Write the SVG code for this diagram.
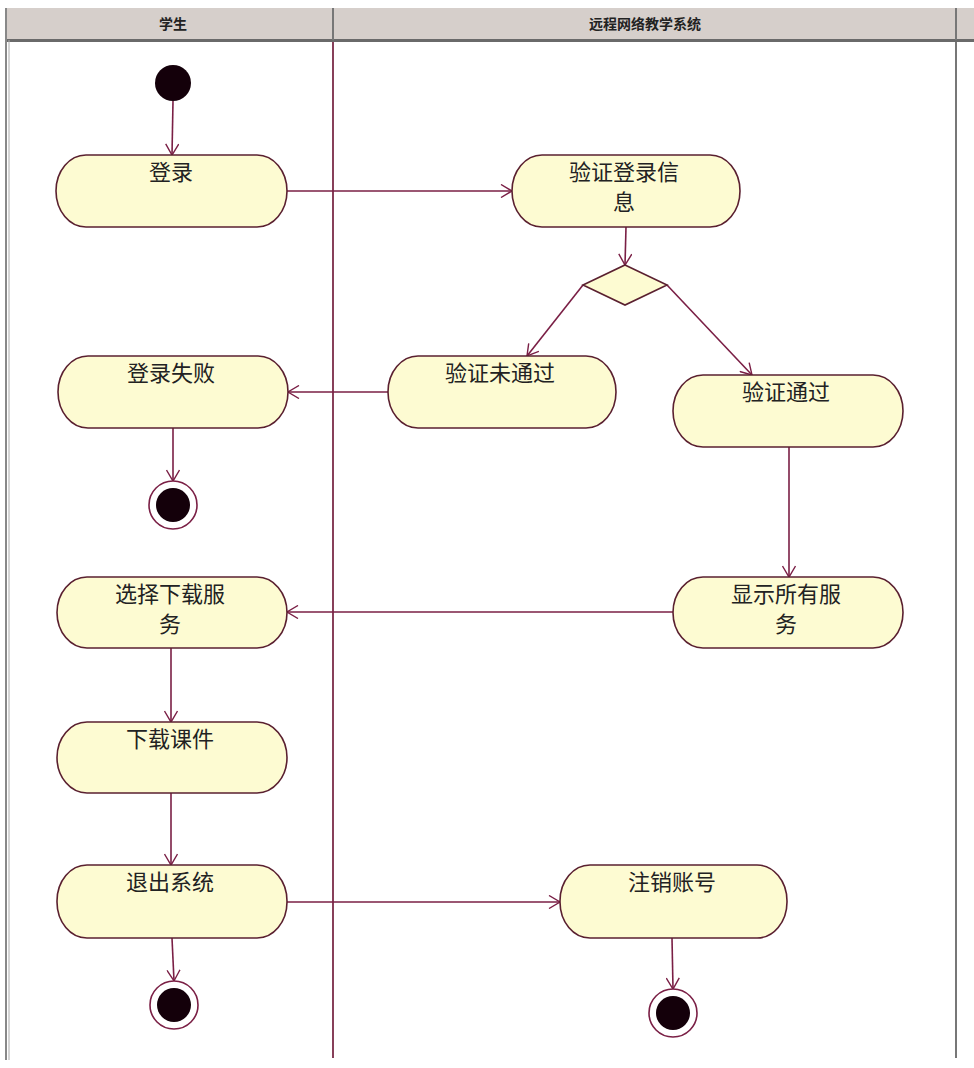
<svg xmlns="http://www.w3.org/2000/svg" width="974" height="1068" viewBox="0 0 974 1068">
<defs>
<style>
.act{fill:#fdfbd2;stroke:#5a2030;stroke-width:1.6}
.lbl{font-family:"Noto Sans CJK SC","Noto Sans",sans-serif;font-size:22px;fill:#222;text-anchor:middle}
.hdr{font-family:"Noto Sans CJK SC","Noto Sans",sans-serif;font-size:14px;font-weight:bold;fill:#222;text-anchor:middle}
.con{stroke:#7a1f45;stroke-width:1.6;fill:none;marker-end:url(#arr)}
.fin{fill:#fff;stroke:#7a1f45;stroke-width:1.6}
.dot{fill:#14000a}
</style>
<marker id="arr" markerWidth="14" markerHeight="14" refX="12" refY="7" orient="auto" markerUnits="userSpaceOnUse">
<path d="M1,0.5 L12,7 L1,13.5" fill="none" stroke="#7a1f45" stroke-width="1.4"/>
</marker>
</defs>
<rect width="974" height="1068" fill="#fff"/>
<g id="swimlanes">
<rect x="5" y="8" width="969" height="32" fill="#d6cfcb"/>
<rect x="5" y="39" width="969" height="3" fill="#6a6a6a"/>
<line x1="333" y1="8" x2="333" y2="40" stroke="#777" stroke-width="2"/>
<line x1="956" y1="8" x2="956" y2="40" stroke="#777" stroke-width="2"/>
<line x1="6" y1="8" x2="6" y2="1060" stroke="#888" stroke-width="2"/>
<line x1="9" y1="40" x2="9" y2="1060" stroke="#aaa" stroke-width="1"/>
<line x1="333" y1="42" x2="333" y2="1058" stroke="#6a1030" stroke-width="1.6"/>
<line x1="956" y1="42" x2="956" y2="1058" stroke="#555" stroke-width="1.6"/>
<text class="hdr" x="173" y="29">学生</text>
<text class="hdr" x="645" y="29">远程网络教学系统</text>
</g>
<g id="connectors">
<line class="con" x1="173" y1="101" x2="172" y2="155"/>
<line class="con" x1="287" y1="191" x2="512" y2="191"/>
<line class="con" x1="626" y1="227" x2="625" y2="265"/>
<line class="con" x1="583" y1="285" x2="527" y2="356"/>
<line class="con" x1="667" y1="285" x2="752" y2="375"/>
<line class="con" x1="388" y1="392" x2="288" y2="392"/>
<line class="con" x1="173" y1="428" x2="173" y2="481"/>
<line class="con" x1="789" y1="447" x2="789" y2="577"/>
<line class="con" x1="673" y1="612" x2="287" y2="612"/>
<line class="con" x1="171" y1="648" x2="171" y2="722"/>
<line class="con" x1="171" y1="793" x2="171" y2="865"/>
<line class="con" x1="172" y1="938" x2="174" y2="981"/>
<line class="con" x1="287" y1="902" x2="560" y2="902"/>
<line class="con" x1="672" y1="938" x2="673" y2="989"/>
</g>
<g id="start"><circle class="dot" cx="173" cy="83" r="18"/></g>
<g id="login"><rect class="act" x="56" y="155" width="231" height="72" rx="30" ry="36"/><text class="lbl" x="171" y="180">登录</text></g>
<g id="verify"><rect class="act" x="512" y="155" width="228" height="72" rx="30" ry="36"/><text class="lbl" x="624" y="180">验证登录信</text><text class="lbl" x="624" y="210">息</text></g>
<g id="decision"><polygon class="act" points="625,265 667,285 625,305 583,285"/></g>
<g id="fail"><rect class="act" x="388" y="356" width="228" height="72" rx="30" ry="36"/><text class="lbl" x="500" y="381">验证未通过</text></g>
<g id="pass"><rect class="act" x="673" y="375" width="230" height="72" rx="30" ry="36"/><text class="lbl" x="786" y="400">验证通过</text></g>
<g id="loginfail"><rect class="act" x="58" y="356" width="230" height="72" rx="30" ry="36"/><text class="lbl" x="171" y="381">登录失败</text></g>
<g id="end1"><circle class="fin" cx="173" cy="505" r="24"/><circle class="dot" cx="173" cy="505" r="17"/></g>
<g id="showall"><rect class="act" x="673" y="577" width="230" height="71" rx="30" ry="36"/><text class="lbl" x="786" y="602">显示所有服</text><text class="lbl" x="786" y="632">务</text></g>
<g id="choose"><rect class="act" x="57" y="577" width="230" height="71" rx="30" ry="36"/><text class="lbl" x="170" y="602">选择下载服</text><text class="lbl" x="170" y="632">务</text></g>
<g id="download"><rect class="act" x="57" y="722" width="230" height="71" rx="30" ry="36"/><text class="lbl" x="170" y="747">下载课件</text></g>
<g id="exit"><rect class="act" x="57" y="865" width="230" height="73" rx="30" ry="36"/><text class="lbl" x="170" y="890">退出系统</text></g>
<g id="cancel"><rect class="act" x="560" y="865" width="227" height="73" rx="30" ry="36"/><text class="lbl" x="672" y="890">注销账号</text></g>
<g id="end2"><circle class="fin" cx="174" cy="1005" r="24"/><circle class="dot" cx="174" cy="1005" r="17"/></g>
<g id="end3"><circle class="fin" cx="673" cy="1013" r="24"/><circle class="dot" cx="673" cy="1013" r="17"/></g>
</svg>
